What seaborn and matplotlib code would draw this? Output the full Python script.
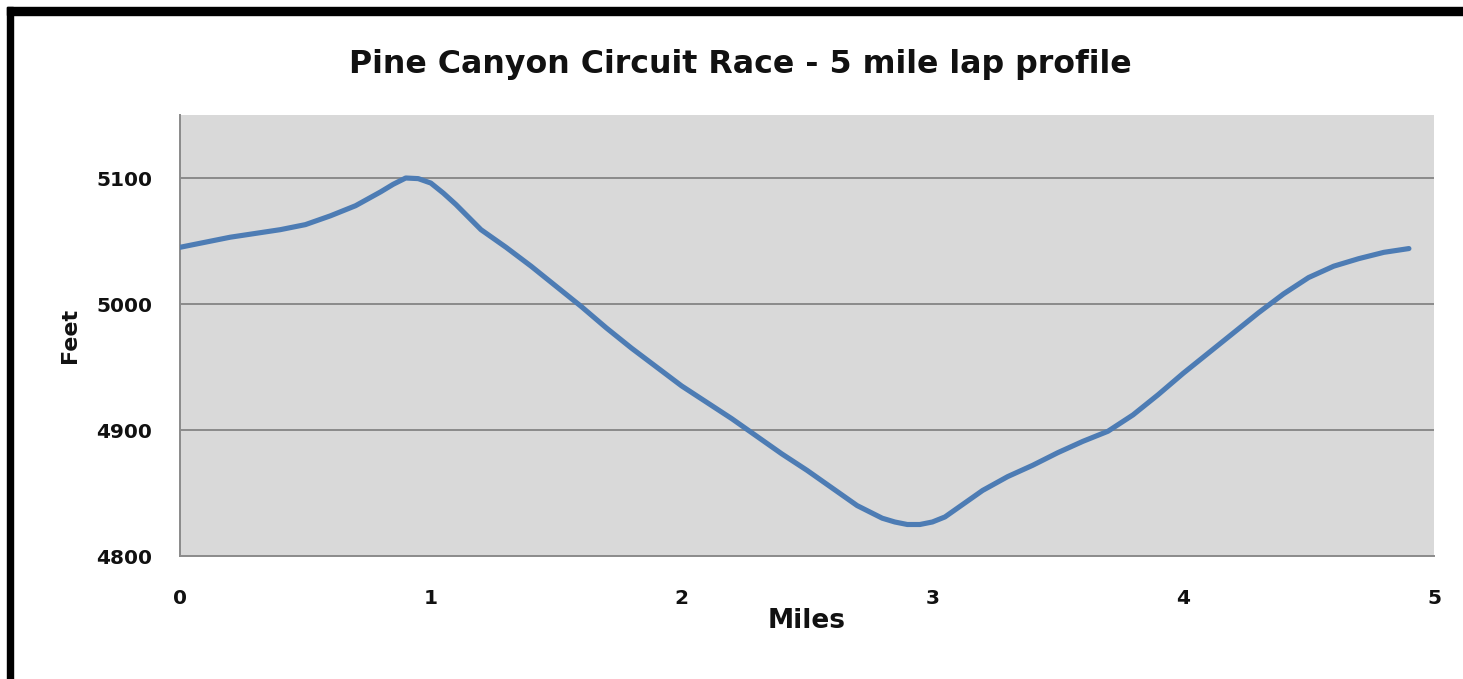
import matplotlib
matplotlib.use("Agg")
import matplotlib.pyplot as plt
from matplotlib.patches import Rectangle
import pandas as pd
import seaborn as sns

# lap profile (extra half steps where the curve bends)
miles = [0.0, 0.1, 0.2, 0.3, 0.4, 0.5, 0.6, 0.7, 0.8, 0.85,
         0.9, 0.95, 1.0, 1.05, 1.1, 1.15, 1.2, 1.3, 1.4, 1.5,
         1.6, 1.7, 1.8, 1.9, 2.0, 2.1, 2.2, 2.3, 2.4, 2.5,
         2.6, 2.7, 2.75, 2.8, 2.85, 2.9, 2.95, 3.0, 3.05, 3.1,
         3.15, 3.2, 3.3, 3.4, 3.5, 3.6, 3.7, 3.8, 3.9, 4.0,
         4.1, 4.2, 4.3, 4.4, 4.5, 4.6, 4.7, 4.8, 4.9]
feet = [5045, 5049, 5053, 5056, 5059, 5063, 5070, 5078, 5089, 5095,
        5100, 5099.5, 5096, 5088, 5079, 5069, 5059, 5045, 5030, 5014,
        4998, 4981, 4965, 4950, 4935, 4922, 4909, 4895, 4881, 4868,
        4854, 4840, 4835, 4830, 4827, 4825, 4825, 4827, 4831, 4838,
        4845, 4852, 4863, 4872, 4882, 4891, 4899, 4912, 4928, 4945,
        4961, 4977, 4993, 5008, 5021, 5030, 5036, 5041, 5044]

x_ticks = [0, 1, 2, 3, 4, 5]
y_ticks = [4800, 4900, 5000, 5100]
title = "Pine Canyon Circuit Race - 5 mile lap profile"

df = pd.DataFrame({"Miles": miles, "Feet": feet})

sns.set_style("white")
plt.rcParams["font.family"] = ["DejaVu Sans"]

W, H = 1463, 679
fig = plt.figure(figsize=(W / 100, H / 100), dpi=100)
ax = fig.add_axes([180 / W, 1 - 556 / H, (1434 - 180) / W, (556 - 115) / H])
ax.set_facecolor("#D9D9D9")

for y in y_ticks[1:]:
    ax.axhline(y, color="#8A8A8A", lw=1.4, zorder=1)

sns.lineplot(data=df, x="Miles", y="Feet", ax=ax, color="#4D7CB4",
             lw=3.7, zorder=3, solid_capstyle="round", solid_joinstyle="round")

ax.set_xlim(0, 5)
ax.set_ylim(4800, 5150)
ax.set_xticks(x_ticks)
ax.set_yticks(y_ticks)
ax.set_xticklabels([str(t) for t in x_ticks], fontsize=14.5, fontweight="bold")
ax.set_yticklabels([str(t) for t in y_ticks], fontsize=14.5, fontweight="bold")
ax.tick_params(axis="both", direction="out", length=7, width=1.2,
               color="#8A8A8A", labelcolor="#111111")
ax.tick_params(axis="y", pad=13)
ax.tick_params(axis="x", pad=17)

for s in ["top", "right"]:
    ax.spines[s].set_visible(False)
for s in ["left", "bottom"]:
    ax.spines[s].set_color("#8A8A8A")
    ax.spines[s].set_linewidth(1.4)

ax.set_xlabel("Miles", fontsize=19, fontweight="bold", color="#111111", labelpad=0)
ax.set_ylabel("Feet", fontsize=16, fontweight="bold", color="#111111", labelpad=12)

fig.text(740 / W, 1 - 73 / H, title, ha="center", va="baseline",
         fontsize=22.8, fontweight="bold", color="#111111")

# black frame on top and left edge
fig.patches.append(Rectangle((7 / W, 1 - 15 / H), 1 - 7 / W, 8 / H,
                             transform=fig.transFigure, color="black", zorder=5))
fig.patches.append(Rectangle((7 / W, 0), 6 / W, 1 - 7 / H,
                             transform=fig.transFigure, color="black", zorder=5))

fig.savefig("out.png", dpi=100)
